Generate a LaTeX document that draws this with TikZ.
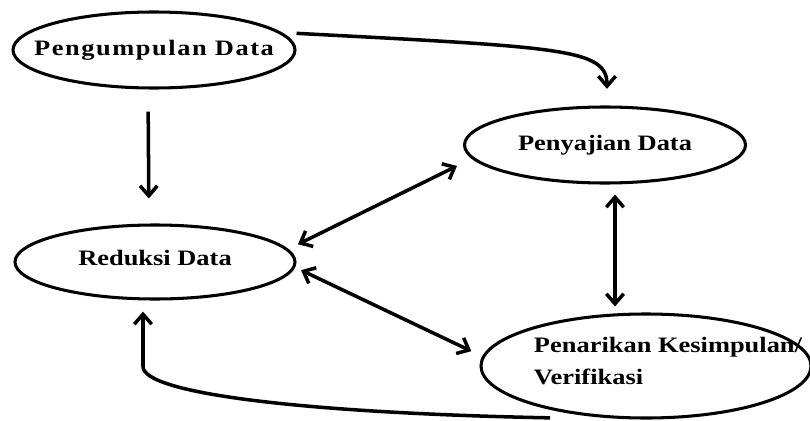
\documentclass[tikz,border=0pt]{standalone}
\usepackage{fontspec}
\setmainfont{Liberation Serif}[FakeStretch=1.2]
\usetikzlibrary{shapes.geometric,arrows.meta}

\begin{document}
\begin{tikzpicture}[x=0.03cm, y=-0.03cm,
  font=\fontsize{18.8}{27}\selectfont\bfseries,
  stage/.style={ellipse, draw, line width=2.6pt, inner sep=0pt},
  arr/.style={line width=3pt, -{Straight Barb[length=0.3cm, width=0.52cm]}},
  both/.style={arr, {Straight Barb[length=0.3cm, width=0.52cm]}-{Straight Barb[length=0.3cm, width=0.52cm]}}]
\useasboundingbox (0,0) rectangle (810,421);
\node[stage, minimum width=8.46cm, minimum height=2.28cm, label={center:\addfontfeatures{LetterSpace=7}Pengumpulan Data}] (kumpul) at (154,50) {};
\node[stage, minimum width=8.43cm, minimum height=2.28cm, label={center:Penyajian Data}] (sajian) at (605,145) {};
\node[stage, minimum width=8.4cm, minimum height=2.22cm, label={[yshift=0.12cm]center:Reduksi Data}] (reduksi) at (155,262) {};
\node[stage, minimum width=9.9cm, minimum height=3.12cm, label={[xshift=0.66cm, yshift=0.15cm, align=left]center:{Penarikan Kesimpulan/\\Verifikasi}}] (penarikan) at (646,366) {};
\draw[arr, shorten <=0.66cm, shorten >=0.75cm] ([xshift=-0.18cm]kumpul.south) -- ([xshift=-0.18cm]reduksi.north);
\draw[arr, shorten >=0.5cm] ([yshift=0.5cm]kumpul.east) to[out=-3, in=90, out distance=8cm, in distance=1.7cm] ([xshift=0.06cm]sajian.north);
\draw[both, shorten <=0.2cm, shorten >=0.05cm] ([yshift=-0.54cm]sajian.west) -- ([yshift=0.51cm]reduksi.east);
\draw[both, shorten <=0.15cm, shorten >=0.27cm] ([yshift=-0.18cm]reduksi.east) -- ([yshift=0.33cm]penarikan.west);
\coordinate (vx) at ([xshift=0.3cm]sajian.south);
\draw[both, shorten <=0.3cm, shorten >=0.18cm] (vx) -- (vx |- penarikan.north);
\coordinate (balik) at ([xshift=-2.88cm, yshift=0.05cm]penarikan.south);
\coordinate (sudut) at ([xshift=-0.36cm, yshift=-1.98cm]reduksi.south);
\draw[arr, shorten >=0.33cm] (balik) .. controls +(-7.5cm,0.15cm) and +(0,-0.8cm) .. (sudut) -- ([xshift=-0.36cm]reduksi.south);
\end{tikzpicture}
\end{document}
